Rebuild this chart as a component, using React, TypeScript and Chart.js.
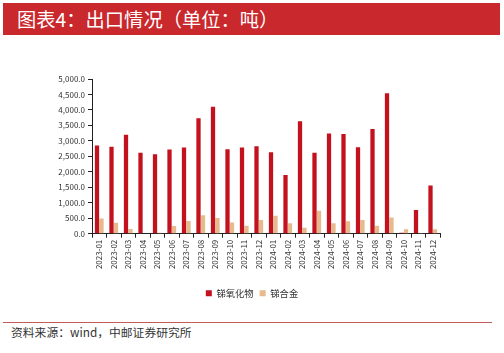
import React, { useEffect, useRef } from "react";
import { Chart, registerables } from "chart.js";

Chart.register(...registerables);

const months = [
  "2023-01", "2023-02", "2023-03", "2023-04", "2023-05", "2023-06",
  "2023-07", "2023-08", "2023-09", "2023-10", "2023-11", "2023-12",
  "2024-01", "2024-02", "2024-03", "2024-04", "2024-05", "2024-06",
  "2024-07", "2024-08", "2024-09", "2024-10", "2024-11", "2024-12",
];

const antimonyOxide = [
  2850, 2810, 3200, 2620, 2570, 2720, 2785, 3730, 4100, 2730, 2785, 2830,
  2635, 1900, 3635, 2615, 3240, 3225, 2795, 3385, 4540, 30, 765, 1560,
];

const antimonyAlloy = [
  495, 355, 150, 0, 30, 245, 410, 600, 505, 365, 258, 440,
  580, 335, 195, 740, 335, 400, 440, 258, 525, 140, 10, 140,
];

const yTicks = [0, 500, 1000, 1500, 2000, 2500, 3000, 3500, 4000, 4500, 5000];

const seriesNames = ["锑氧化物", "锑合金"];

const FONT = "'Noto Sans CJK SC', 'Noto Sans', sans-serif";

export default function App() {
  const canvasRef = useRef<HTMLCanvasElement | null>(null);

  useEffect(() => {
    document.body.style.margin = "0";
    const ctx = canvasRef.current;
    if (!ctx) return;
    const chart = new Chart(ctx, {
      type: "bar",
      data: {
        labels: months,
        datasets: [
          {
            label: seriesNames[0],
            data: antimonyOxide,
            backgroundColor: "#C3111E",
            categoryPercentage: 0.62,
            barPercentage: 0.95,
          },
          {
            label: seriesNames[1],
            data: antimonyAlloy,
            backgroundColor: "#E6BA8C",
            categoryPercentage: 0.62,
            barPercentage: 0.95,
          },
        ],
      },
      options: {
        animation: false,
        responsive: false,
        maintainAspectRatio: false,
        layout: { padding: { left: 0, right: 0, top: 39, bottom: 0 } },
        plugins: {
          legend: {
            position: "bottom",
            labels: {
              boxWidth: 6,
              boxHeight: 6,
              padding: 6,
              color: "#333",
              font: { family: FONT, size: 9.3 },
            },
          },
          tooltip: { enabled: false },
        },
        scales: {
          x: {
            afterFit: (scale: any) => {
              scale.height = 49;
            },
            grid: {
              drawOnChartArea: false,
              drawTicks: true,
              tickLength: 4,
              color: "#222",
              offset: true,
            },
            border: { display: true, color: "#222", width: 1 },
            ticks: {
              minRotation: 90,
              maxRotation: 90,
              autoSkip: false,
              color: "#333",
              padding: 2,
              font: { family: FONT, size: 8 },
            },
          },
          y: {
            min: 0,
            max: 5000,
            afterFit: (scale: any) => {
              scale.width = 92;
            },
            afterBuildTicks: (scale: any) => {
              scale.ticks = yTicks.map((v) => ({ value: v }));
            },
            grid: {
              drawOnChartArea: false,
              drawTicks: true,
              tickLength: 4,
              color: "#222",
            },
            border: { display: true, color: "#222", width: 1 },
            ticks: {
              color: "#333",
              padding: 3,
              font: { family: FONT, size: 8 },
              callback: (v: any) =>
                Number(v).toLocaleString("en-US", {
                  minimumFractionDigits: 1,
                  maximumFractionDigits: 1,
                }),
            },
          },
          yRight: {
            position: "right",
            min: 0,
            max: 5000,
            afterFit: (scale: any) => {
              scale.width = 64;
            },
            grid: { display: false, drawTicks: false },
            border: { display: false },
            ticks: { display: false },
          },
        },
      },
    });
    return () => chart.destroy();
  }, []);

  return (
    <div
      style={{
        position: "fixed",
        left: 0,
        top: 0,
        width: 504,
        height: 353,
        background: "#fff",
        overflow: "hidden",
        fontFamily: FONT,
      }}
    >
      <div
        style={{
          position: "absolute",
          left: 3,
          top: 3,
          width: 497,
          height: 32,
          background: "#C9282D",
          color: "#fff",
          fontSize: 19.3,
          lineHeight: "32px",
          paddingLeft: 14,
          boxSizing: "border-box",
          whiteSpace: "nowrap",
        }}
      >
        图表4：出口情况（单位：吨）
      </div>
      <canvas
        ref={canvasRef}
        width={504}
        height={268}
        style={{ position: "absolute", left: 0, top: 40, width: 504, height: 268 }}
      />
      <div
        style={{
          position: "absolute",
          left: 3,
          top: 322,
          width: 489,
          height: 1,
          background: "#C55A5A",
        }}
      />
      <div
        style={{
          position: "absolute",
          left: 11,
          top: 324,
          fontSize: 11.8,
          lineHeight: "16px",
          color: "#333",
          whiteSpace: "nowrap",
        }}
      >
        资料来源：wind，中邮证券研究所
      </div>
    </div>
  );
}
